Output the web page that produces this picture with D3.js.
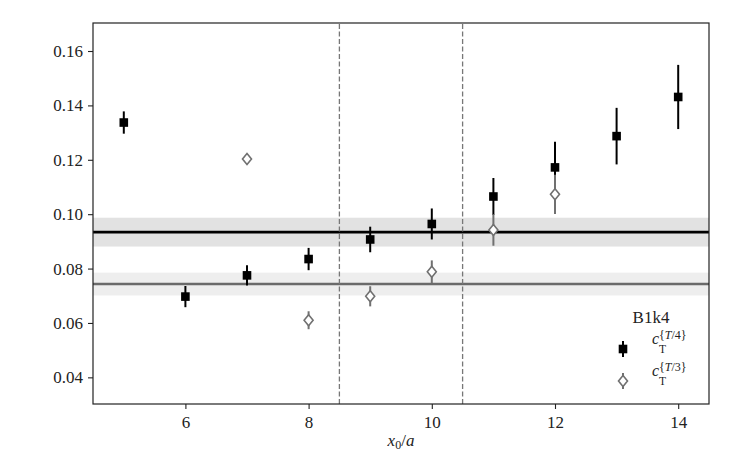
<!DOCTYPE html>
<html>
<head>
<meta charset="utf-8">
<script src="https://cdn.jsdelivr.net/npm/d3@7"></script>
<style>
  body { margin: 0; background: #fff; }
</style>
</head>
<body>
<div id="chart"></div>
<script>
// c_T^{T/4} points (black squares)
const xT4 = [5, 6, 7, 8, 9, 10, 11, 12, 13, 14];
const yT4 = [0.1337, 0.0697, 0.0775, 0.0835, 0.0907, 0.0964, 0.1065, 0.1172, 0.1287, 0.1431];
const eT4 = [0.0041, 0.0039, 0.0037, 0.0041, 0.0047, 0.0057, 0.0068, 0.0094, 0.0104, 0.0118];

// c_T^{T/3} points (open diamonds)
const xT3 = [7, 8, 9, 10, 11, 12];
const yT3 = [0.1203, 0.0610, 0.0698, 0.0788, 0.0942, 0.1073];
const eT3 = [0.0018, 0.0033, 0.0037, 0.0042, 0.0058, 0.0072];

// fit results (central value, error)
const fitT4 = [0.0934, 0.0053];
const fitT3 = [0.0743, 0.0042];

// fit window
const windowEdges = [8.5, 10.5];

const xTicks = [6, 8, 10, 12, 14];
const yTicks = [0.04, 0.06, 0.08, 0.10, 0.12, 0.14, 0.16];
const legendLabels = ["T/4", "T/3"];

const FONT = "Liberation Serif";
const width = 747, height = 462;
const margin = {top: 23, right: 38, bottom: 58, left: 93};

const svg = d3.select("#chart").append("svg")
    .attr("width", width)
    .attr("height", height);

const x = d3.scaleLinear().domain([4.5, 14.5]).range([margin.left, width - margin.right]);
const y = d3.scaleLinear().domain([0.0302, 0.1703]).range([height - margin.bottom, margin.top]);

const plot = svg.append("g");

// bands
const bands = [
    {fit: fitT4, fill: "#e2e2e2", line: "#000000"},
    {fit: fitT3, fill: "#eeeeee", line: "#6a6a6a"}
];
bands.forEach(b => {
    plot.append("rect")
        .attr("x", x(4.5))
        .attr("width", x(14.5) - x(4.5))
        .attr("y", y(b.fit[0] + b.fit[1]))
        .attr("height", y(b.fit[0] - b.fit[1]) - y(b.fit[0] + b.fit[1]))
        .attr("fill", b.fill);
});
bands.forEach(b => {
    plot.append("line")
        .attr("x1", x(4.5)).attr("x2", x(14.5))
        .attr("y1", y(b.fit[0])).attr("y2", y(b.fit[0]))
        .attr("stroke", b.line)
        .attr("stroke-width", 2.6);
});

// fit window
plot.selectAll(".vline")
    .data(windowEdges)
    .enter().append("line")
    .attr("class", "vline")
    .attr("x1", d => x(d)).attr("x2", d => x(d))
    .attr("y1", y.range()[0]).attr("y2", y.range()[1])
    .attr("stroke", "#777")
    .attr("stroke-width", 1.3)
    .attr("stroke-dasharray", "5,2.5");

// squares
const t4 = xT4.map((d, i) => ({x: d, y: yT4[i], e: eT4[i]}));
plot.selectAll(".errT4")
    .data(t4)
    .enter().append("line")
    .attr("class", "errT4")
    .attr("x1", d => x(d.x)).attr("x2", d => x(d.x))
    .attr("y1", d => y(d.y - d.e)).attr("y2", d => y(d.y + d.e))
    .attr("stroke", "#000")
    .attr("stroke-width", 2);
plot.selectAll(".sqT4")
    .data(t4)
    .enter().append("rect")
    .attr("class", "sqT4")
    .attr("x", d => x(d.x) - 4.3)
    .attr("y", d => y(d.y) - 4.3)
    .attr("width", 8.6).attr("height", 8.6)
    .attr("fill", "#000");

// diamonds
const diamond = (cx, cy) => `M${cx},${cy - 5.5}L${cx + 4.5},${cy}L${cx},${cy + 5.5}L${cx - 4.5},${cy}Z`;
const t3 = xT3.map((d, i) => ({x: d, y: yT3[i], e: eT3[i]}));
plot.selectAll(".errT3")
    .data(t3)
    .enter().append("line")
    .attr("class", "errT3")
    .attr("x1", d => x(d.x)).attr("x2", d => x(d.x))
    .attr("y1", d => y(d.y - d.e)).attr("y2", d => y(d.y + d.e))
    .attr("stroke", "#707070")
    .attr("stroke-width", 2);
plot.selectAll(".dmT3")
    .data(t3)
    .enter().append("path")
    .attr("class", "dmT3")
    .attr("d", d => diamond(x(d.x), y(d.y)))
    .attr("fill", "#fff")
    .attr("stroke", "#707070")
    .attr("stroke-width", 1.6);

// axes
const xAxis = svg.append("g")
    .attr("transform", `translate(0,${height - margin.bottom})`)
    .call(d3.axisBottom(x).tickValues(xTicks).tickSize(5).tickFormat(d3.format("d")));
xAxis.selectAll("text").attr("y", 24).attr("dy", null);
const yAxis = svg.append("g")
    .attr("transform", `translate(${margin.left},0)`)
    .call(d3.axisLeft(y).tickValues(yTicks).tickSize(5).tickPadding(5).tickFormat(d3.format(".2f")));
[xAxis, yAxis].forEach(a => {
    a.attr("font-family", FONT).attr("font-size", 17);
    a.select(".domain").remove();
    a.selectAll("line").attr("stroke", "#222").attr("stroke-width", 1.1);
    a.selectAll("text").attr("fill", "#222");
});

// frame
svg.append("rect")
    .attr("x", margin.left).attr("y", margin.top)
    .attr("width", width - margin.left - margin.right)
    .attr("height", height - margin.top - margin.bottom)
    .attr("fill", "none")
    .attr("stroke", "#222")
    .attr("stroke-width", 1.2);

// x label
const xl = svg.append("text")
    .attr("x", x(9.5)).attr("y", 446)
    .attr("text-anchor", "middle")
    .attr("fill", "#222")
    .attr("font-family", FONT)
    .attr("font-size", 17);
xl.append("tspan").attr("font-style", "italic").text("x");
xl.append("tspan").attr("dy", 3).attr("font-size", 12).text("0");
xl.append("tspan").attr("dy", -3).text("/");
xl.append("tspan").attr("font-style", "italic").text("a");

// legend
const lg = svg.append("g").attr("font-family", FONT);
lg.append("text")
    .attr("x", 651).attr("y", 323)
    .attr("text-anchor", "middle")
    .attr("fill", "#222")
    .attr("font-size", 17)
    .text("B1k4");

legendLabels.forEach((lab, i) => {
    const cx = 623, cy = 349 + i * 32;
    const col = i === 0 ? "#000" : "#707070";
    lg.append("line").attr("x1", cx).attr("x2", cx)
        .attr("y1", cy - 8).attr("y2", cy + 8)
        .attr("stroke", col).attr("stroke-width", 2);
    if (i === 0) {
        lg.append("rect").attr("x", cx - 4.3).attr("y", cy - 4.3)
            .attr("width", 8.6).attr("height", 8.6).attr("fill", col);
    } else {
        lg.append("path").attr("d", diamond(cx, cy))
            .attr("fill", "#fff").attr("stroke", col).attr("stroke-width", 1.6);
    }
    const t = lg.append("text").attr("x", 652).attr("y", cy - 5)
        .attr("fill", "#222").attr("font-size", 16);
    t.append("tspan").attr("font-style", "italic").text("c");
    t.append("tspan").attr("x", 659).attr("y", cy + 4).attr("font-size", 11.5).text("T");
    t.append("tspan").attr("x", 659).attr("y", cy - 10).attr("font-size", 12).text("{");
    t.append("tspan").attr("font-size", 12).attr("font-style", "italic").text(lab.split("/")[0]);
    t.append("tspan").attr("font-size", 12).text("/" + lab.split("/")[1] + "}");
});
</script>
</body>
</html>
